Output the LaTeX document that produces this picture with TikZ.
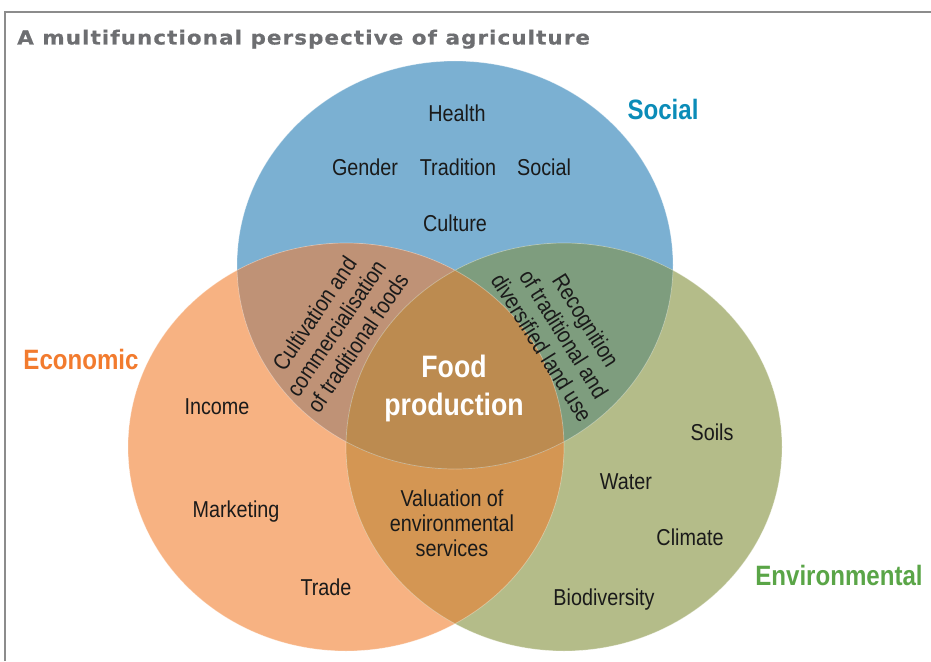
\documentclass[tikz,border=0pt]{standalone}
\usepackage{fontspec}
\setmainfont{Liberation Sans}[FakeStretch=0.86]
\newfontfamily\headfont{DejaVu Sans Bold}[FakeStretch=1.1, LetterSpace=5.5, FakeBold=0.6]

\definecolor{socblue}{HTML}{7BB0D2}
\definecolor{ecoorange}{HTML}{F7B282}
\definecolor{envgreen}{HTML}{B4BC89}
\definecolor{soceco}{HTML}{BF9276}
\definecolor{socenv}{HTML}{7E9D7E}
\definecolor{ecoenv}{HTML}{D49653}
\definecolor{allthree}{HTML}{BC8B50}
\definecolor{socialtext}{HTML}{0B8CB8}
\definecolor{economictext}{HTML}{F27B2E}
\definecolor{environtext}{HTML}{5AA547}
\definecolor{titlegray}{HTML}{6D6E71}
\definecolor{framegray}{HTML}{8C8C8C}
\definecolor{ink}{HTML}{1A1A1A}

\begin{document}
\begin{tikzpicture}[x=1pt, y=-1pt,
  lobe/.style={x radius=218pt, y radius=204pt},
  rim/.style={draw=white, draw opacity=0.35, line width=0.7pt},
  item/.style={font=\fontsize{23}{24}\selectfont, text=ink, inner sep=0pt, anchor=base},
  overlap/.style={font=\fontsize{23}{25}\selectfont, text=ink, inner sep=0pt, align=center},
  slanted/.style={overlap, font=\fontsize{23}{26}\selectfont},
  heading/.style={font=\bfseries\fontsize{28}{30}\selectfont, inner sep=0pt, anchor=base}]

  \useasboundingbox (0,0) rectangle (931,661);

  % frame and title
  \draw[framegray, line width=2pt] (5,661) -- (5,12.5) -- (931,12.5);
  \node[anchor=base west, inner sep=0pt, text=titlegray,
        font=\headfont\fontsize{19.5}{21}\selectfont] (title) at (17,44.5)
        {A multifunctional perspective of agriculture};

  \coordinate (soc) at (455,265);
  \coordinate (eco) at (346,447);
  \coordinate (env) at (564,447);

  % the three sets
  \fill[socblue] (soc) ellipse [lobe];
  \fill[ecoorange] (eco) ellipse [lobe];
  \fill[envgreen] (env) ellipse [lobe];
  \begin{scope}
    \clip (eco) ellipse [lobe];
    \fill[ecoenv] (env) ellipse [lobe];
  \end{scope}
  \begin{scope}
    \clip (soc) ellipse [lobe];
    \fill[soceco] (eco) ellipse [lobe];
    \fill[socenv] (env) ellipse [lobe];
    \clip (eco) ellipse [lobe];
    \fill[allthree] (env) ellipse [lobe];
  \end{scope}
  \draw[rim] (soc) ellipse [lobe] (eco) ellipse [lobe] (env) ellipse [lobe];

  % set names
  \node[heading, text=socialtext] (social) at (663,119) {Social};
  \node[heading, text=economictext] (economic) at (81,369) {Economic};
  \node[heading, text=environtext] (environmental) at (839,585) {Environmental};

  % social
  \node[item] (health) at (457,121) {Health};
  \node[item] (gender) at (365,175) {Gender};
  \node[item] (tradition) at (458,175) {Tradition};
  \node[item] (socialword) at (544,175) {Social};
  \node[item] (culture) at (455,231) {Culture};

  % economic
  \node[item] (income) at (217,414) {Income};
  \node[item] (marketing) at (236,517) {Marketing};
  \node[item] (trade) at (326,595) {Trade};

  % environmental
  \node[item] (soils) at (712,440) {Soils};
  \node[item] (water) at (626,489) {Water};
  \node[item] (climate) at (690,545) {Climate};
  \node[item] (biodiv) at (604,605) {Biodiversity};

  % overlaps
  \node[slanted, rotate=56] (cultivation) at (336,328)
       {Cultivation and\\commercialisation\\of traditional foods};
  \node[slanted, rotate=-58] (recognition) at (564,334)
       {Recognition\\of traditional and\\diversified land use};
  \node[overlap] (valuation) at (452,523)
       {Valuation of\\environmental\\services};
  \node[overlap, text=white, font=\bfseries\fontsize{31}{38}\selectfont] (food) at (454,388)
       {Food\\production};
\end{tikzpicture}
\end{document}
